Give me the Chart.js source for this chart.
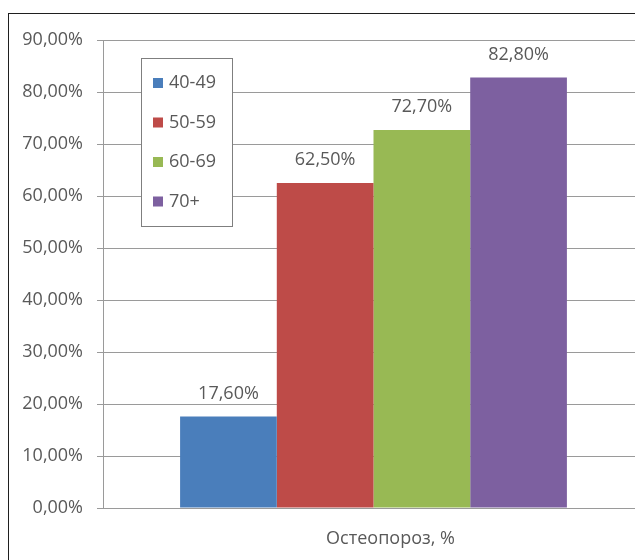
<!DOCTYPE html>
<html>
<head>
<meta charset="utf-8">
<script src="https://cdn.jsdelivr.net/npm/chart.js@4"></script>
<style>
  html, body { margin: 0; padding: 0; background: #fff; overflow: hidden; }
  #wrap { position: relative; width: 635px; height: 560px; overflow: hidden; }
  #frame {
    position: absolute; left: 8px; top: 13px; width: 700px; height: 600px;
    border: 1px solid #1f1f1f; pointer-events: none;
  }
</style>
</head>
<body>
<div id="wrap">
  <canvas id="osteoChart" width="645" height="560"></canvas>
  <div id="frame"></div>
</div>
<script>
  // === DATA ===
  const categories = ["Остеопороз, %"];
  const ageGroups = ["40-49", "50-59", "60-69", "70+"];
  const osteoValues = [17.6, 62.5, 72.7, 82.8];
  const barColors = ["#4a7ebb", "#be4b48", "#98b954", "#7d60a0"];

  const FONT = "'Open Sans', sans-serif";
  const textColor = "#595959";
  const gridColor = "#9a9a9a";

  const fmtPct = (v) => v.toFixed(2).replace(".", ",") + "%";

  // value labels above bars
  const valueLabels = {
    id: "valueLabels",
    afterDatasetsDraw(chart) {
      const ctx = chart.ctx;
      ctx.save();
      ctx.font = "18px " + FONT;
      ctx.fillStyle = textColor;
      ctx.textAlign = "center";
      ctx.textBaseline = "middle";
      chart.data.datasets.forEach((ds, i) => {
        const bar = chart.getDatasetMeta(i).data[0];
        ctx.fillText(fmtPct(ds.data[0]), bar.x, bar.y - 23);
      });
      ctx.restore();
    },
  };

  // legend box inside plot (Excel style)
  const boxLegend = {
    id: "boxLegend",
    afterDraw(chart) {
      const ctx = chart.ctx;
      const area = chart.chartArea;
      const x = area.left + 38, y = area.top + 18, w = 91, h = 168;
      ctx.save();
      ctx.fillStyle = "#fff";
      ctx.fillRect(x, y, w, h);
      ctx.strokeStyle = "#7f7f7f";
      ctx.lineWidth = 1;
      ctx.strokeRect(x + 0.5, y + 0.5, w, h);
      ctx.font = "18px " + FONT;
      ctx.textBaseline = "middle";
      chart.data.datasets.forEach((ds, i) => {
        const cy = y + 25 + i * 39.5;
        ctx.fillStyle = ds.backgroundColor;
        ctx.fillRect(x + 12, cy - 5, 10, 10);
        ctx.fillStyle = textColor;
        ctx.fillText(ds.label, x + 28, cy);
      });
      ctx.restore();
    },
  };

  new Chart(document.getElementById("osteoChart"), {
    type: "bar",
    data: {
      labels: categories,
      datasets: ageGroups.map((g, i) => ({
        label: g,
        data: [osteoValues[i]],
        backgroundColor: barColors[i],
        borderWidth: 0,
        barPercentage: 1,
        categoryPercentage: 0.715,
      })),
    },
    options: {
      responsive: false,
      animation: false,
      layout: { padding: { top: 40, right: 1, bottom: 0, left: 0 } },
      plugins: {
        legend: { display: false },
        tooltip: { enabled: false },
      },
      scales: {
        x: {
          grid: { display: false },
          border: { display: true, color: gridColor, width: 1 },
          ticks: {
            color: textColor,
            font: { family: FONT, size: 18 },
            padding: 12,
            labelOffset: 17,
          },
          afterFit: (scale) => { scale.height = 52; },
        },
        y: {
          min: 0,
          max: 90,
          ticks: {
            stepSize: 10,
            color: textColor,
            font: { family: FONT, size: 18 },
            padding: 14,
            callback: (v) => fmtPct(v),
          },
          grid: { color: gridColor, tickLength: 6, lineWidth: 1 },
          border: { display: true, color: gridColor, width: 1 },
          afterFit: (scale) => { scale.width = 103; },
        },
      },
    },
    plugins: [valueLabels, boxLegend],
  });
</script>
</body>
</html>
